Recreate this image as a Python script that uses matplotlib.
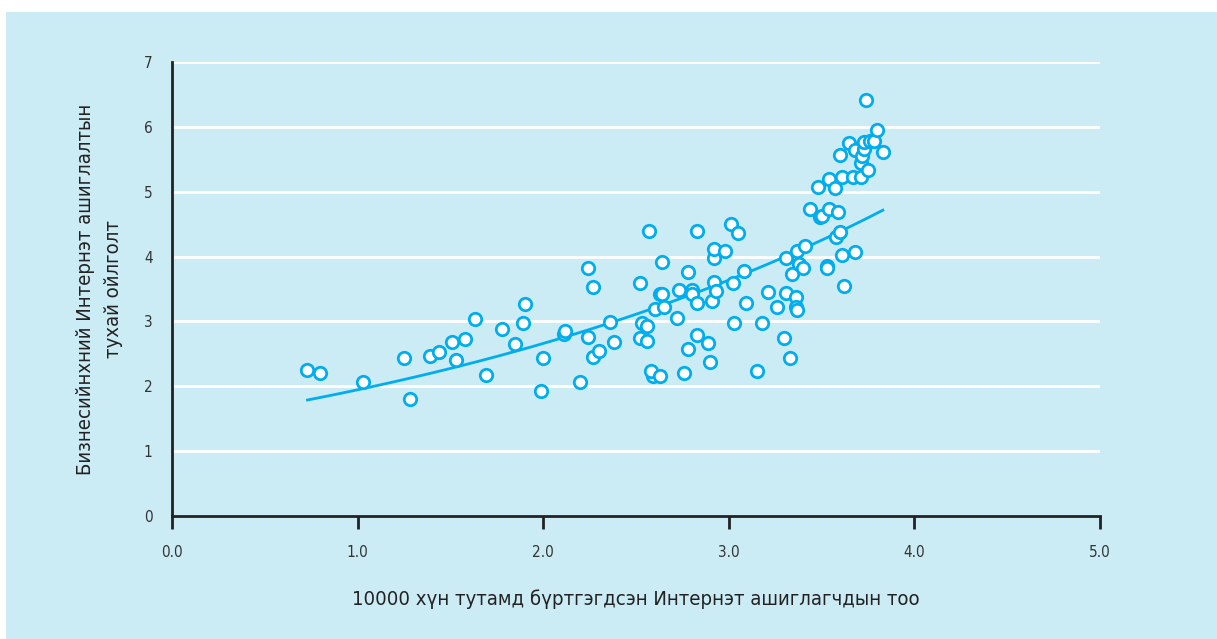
import numpy as np
import matplotlib
matplotlib.use("Agg")
import matplotlib.pyplot as plt
from matplotlib.patches import Rectangle

# internet users per 10000 people (log scale units) vs business perception score
users = [0.73, 0.80, 1.03, 1.25, 1.28, 1.39, 1.44, 1.51, 1.53, 1.58, 1.63, 1.69,
         1.78, 1.85, 1.89, 1.90, 1.99, 2.00, 2.11, 2.12, 2.20, 2.24, 2.24, 2.27,
         2.27, 2.30, 2.36, 2.38, 2.52, 2.53, 2.52, 2.57, 2.56, 2.56, 2.59, 2.58,
         2.60, 2.63, 2.64, 2.63, 2.64, 2.65, 2.72, 2.73, 2.76, 2.78, 2.78, 2.80,
         2.80, 2.83, 2.83, 2.83, 2.89, 2.90, 2.91, 2.92, 2.92, 2.92, 2.93, 2.98,
         3.01, 3.02, 3.03, 3.05, 3.08, 3.09, 3.15, 3.18, 3.21, 3.26, 3.30, 3.31,
         3.31, 3.34, 3.33, 3.36, 3.36, 3.37, 3.37, 3.38, 3.40, 3.41, 3.44, 3.48,
         3.49, 3.50, 3.53, 3.53, 3.54, 3.54, 3.57, 3.58, 3.59, 3.60, 3.61, 3.61,
         3.60, 3.62, 3.65, 3.68, 3.67, 3.68, 3.71, 3.71, 3.72, 3.73, 3.74, 3.73,
         3.75, 3.76, 3.78, 3.80, 3.83]
score = [2.25, 2.21, 2.07, 2.44, 1.80, 2.46, 2.53, 2.68, 2.41, 2.73, 3.04, 2.18,
         2.88, 2.65, 2.98, 3.27, 1.92, 2.43, 2.81, 2.86, 2.07, 3.83, 2.76, 3.53,
         2.45, 2.55, 2.99, 2.69, 3.59, 2.98, 2.75, 4.39, 2.93, 2.70, 2.16, 2.23,
         3.19, 3.42, 3.43, 2.16, 3.92, 3.23, 3.05, 3.48, 2.21, 3.76, 2.58, 3.48,
         3.42, 4.40, 3.28, 2.79, 2.67, 2.37, 3.31, 3.98, 4.11, 3.61, 3.47, 4.08,
         4.50, 3.60, 2.97, 4.36, 3.77, 3.28, 2.24, 2.97, 3.46, 3.23, 2.74, 3.98,
         3.44, 3.73, 2.43, 3.38, 3.23, 3.18, 4.09, 3.89, 3.82, 4.17, 4.73, 5.07,
         4.61, 4.63, 3.86, 3.83, 4.73, 5.20, 5.06, 4.30, 4.68, 4.38, 4.02, 5.22,
         5.57, 3.55, 5.75, 4.07, 5.22, 5.65, 5.23, 5.44, 5.55, 5.66, 6.41, 5.77,
         5.33, 5.78, 5.78, 5.95, 5.61]

x_ticks = [0.0, 1.0, 2.0, 3.0, 4.0, 5.0]
y_ticks = [0, 1, 2, 3, 4, 5, 6, 7]
x_label = "10000 хүн тутамд бүртгэгдсэн Интернэт ашиглагчдын тоо"
y_label = "Бизнесийнхний Интернэт ашиглалтын\nтухай ойлголт"

blue = "#00aeef"
bg = "#cbebf5"
plt.rcParams["font.family"] = ["DejaVu Sans"]
plt.rcParams["font.stretch"] = "condensed"

fig = plt.figure(figsize=(12.17, 6.39), dpi=100)
fig.patches.append(Rectangle((6 / 1217, 0), 1, 1 - 12 / 639, transform=fig.transFigure,
                             facecolor=bg, edgecolor="none", zorder=-10))
ax = fig.add_axes([172 / 1217, 1 - 516 / 639, 928 / 1217, 454 / 639])
ax.patch.set_alpha(0)

ax.set_xlim(0, 5)
ax.set_ylim(0, 7)
ax.set_xticks(x_ticks)
ax.set_xticklabels([f"{t:.1f}" for t in x_ticks])
ax.set_yticks(y_ticks)
for s in ["top", "right"]:
    ax.spines[s].set_visible(False)
for s in ["left", "bottom"]:
    ax.spines[s].set_linewidth(2)
    ax.spines[s].set_color("#222222")
ax.tick_params(axis="x", direction="out", length=9, width=2, color="#222222",
               labelsize=11, pad=12, labelcolor="#333333")
ax.tick_params(axis="y", length=0, labelsize=11, pad=14, labelcolor="#333333")
ax.grid(axis="y", color="white", linewidth=2)
ax.set_axisbelow(True)

# exponential trend fitted on the points
xs = np.array(users)
ys = np.array(score)
b, a = np.polyfit(xs, np.log(ys), 1)
tx = np.linspace(xs.min(), xs.max(), 100)
ax.plot(tx, np.exp(a) * np.exp(b * tx), color=blue, linewidth=2, zorder=2)

ax.scatter(users, score, s=80, facecolor="white", edgecolor=blue, linewidth=2, zorder=3)

ax.set_xlabel(x_label, fontsize=14.6, labelpad=21, color="#222222")
ax.set_ylabel(y_label, fontsize=14.6, labelpad=15, color="#222222", linespacing=1.6)

fig.savefig("out.png", dpi=100)
